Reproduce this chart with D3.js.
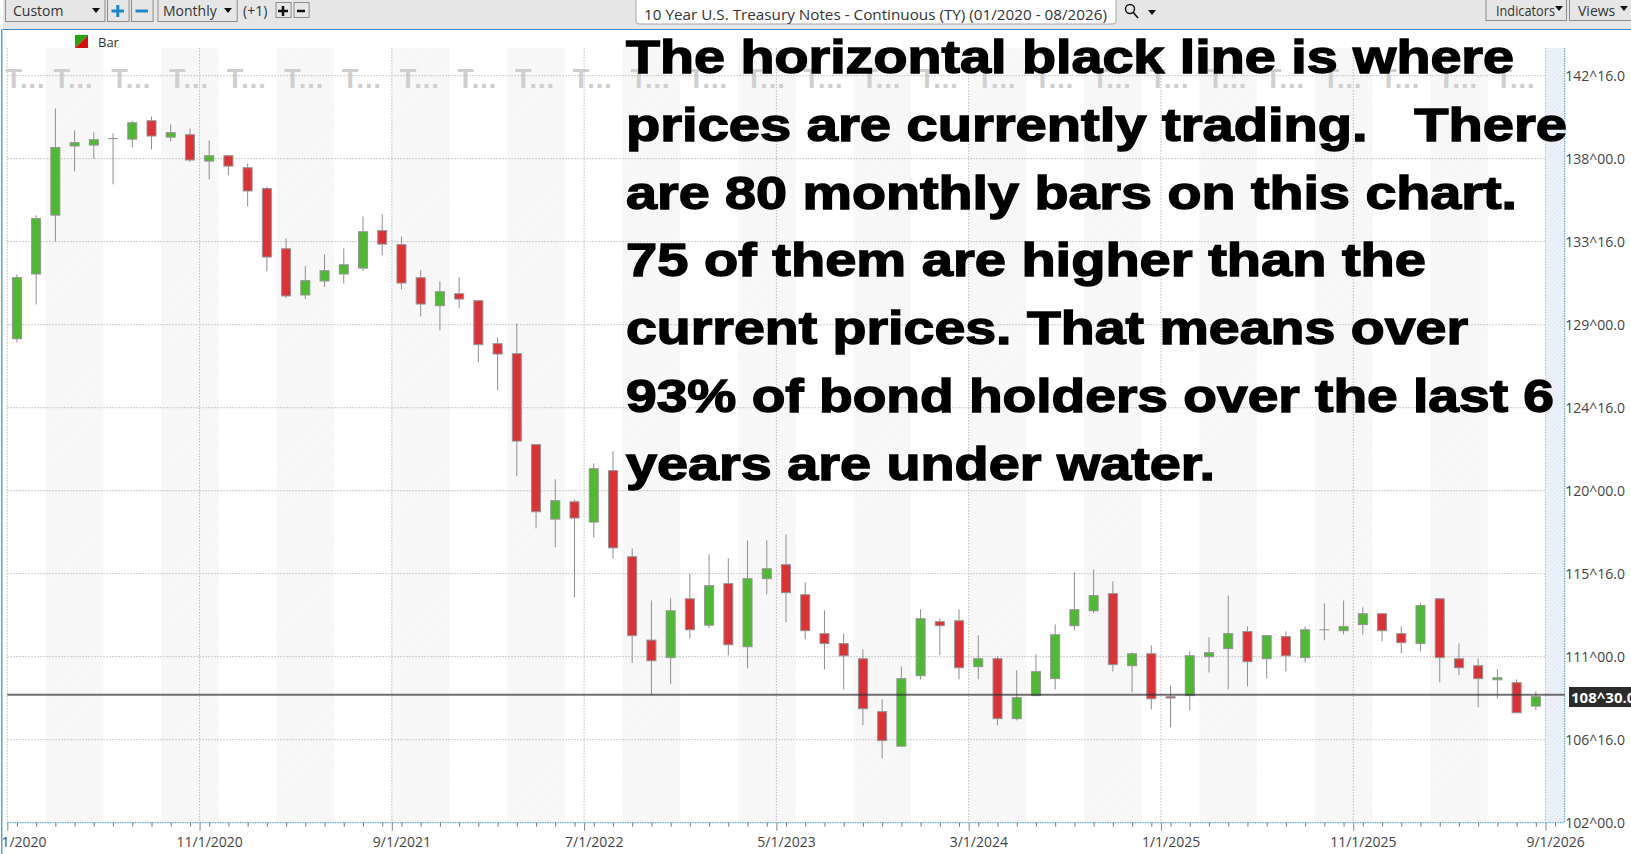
<!DOCTYPE html>
<html>
<head>
<meta charset="utf-8">
<title>10 Year U.S. Treasury Notes</title>
<script src="https://cdnjs.cloudflare.com/ajax/libs/d3/7.8.5/d3.min.js"></script>
<style>
html, body { margin: 0; padding: 0; background: #fff; overflow: hidden; }
svg { display: block; }
text { font-family: "Open Sans", sans-serif; }
</style>
</head>
<body>
<script>
// monthly bars, 01/2020 to 08/2026, prices in points
var opens = [128.24,131.75,134.94,138.69,138.74,139.09,139.06,140.06,139.17,139.30,
  137.87,138.16,137.51,136.38,133.12,130.61,131.37,131.75,132.07,134.10,
  133.34,131.55,130.03,130.68,130.30,127.97,127.43,122.50,118.46,119.40,
  118.30,121.09,116.42,111.90,110.95,114.14,112.71,114.96,111.54,115.23,
  115.99,114.36,112.25,111.71,110.89,108.02,106.15,109.97,112.90,112.95,
  110.46,110.89,107.64,108.89,109.81,112.68,113.49,114.42,110.51,111.16,
  108.83,108.89,111.00,111.44,112.36,110.89,112.09,110.95,112.46,112.41,
  112.74,113.33,112.25,111.71,114.14,110.89,110.51,109.75,109.59,108.32];
var highs = [131.73,134.93,140.73,139.54,139.43,139.37,140.06,140.28,139.86,139.63,
  138.99,138.18,137.73,136.48,133.68,132.20,132.81,133.14,134.87,134.98,
  133.79,131.95,131.35,131.57,130.32,128.31,129.07,122.51,120.61,119.51,
  121.48,122.13,116.87,114.05,114.16,115.48,116.55,116.33,117.31,117.31,
  117.63,115.03,113.51,112.26,111.40,108.69,110.47,113.57,113.08,113.57,
  112.16,111.00,110.26,111.13,112.75,115.57,115.73,115.08,111.23,111.61,
  109.44,111.29,112.05,114.32,112.64,112.14,112.37,112.64,113.89,114.05,
  113.67,113.35,112.64,113.89,114.16,111.72,110.91,110.31,109.77,109.12];
var lows = [128.04,130.10,133.50,137.31,138.00,136.61,138.61,138.51,138.94,137.82,
  136.88,137.10,135.42,131.89,130.44,130.39,131.04,131.24,131.91,132.76,
  130.92,129.45,128.69,129.89,126.96,125.44,120.78,117.96,116.93,114.22,
  117.47,116.33,110.65,108.94,109.51,111.99,112.55,111.07,110.37,114.38,
  112.86,111.94,110.31,109.23,107.28,105.49,106.10,109.77,111.07,109.77,
  109.77,107.28,107.55,108.89,109.23,112.43,113.35,110.20,109.07,108.14,
  107.17,108.09,110.15,109.23,109.39,109.82,110.20,110.69,111.89,112.21,
  112.21,111.83,111.18,111.29,109.61,109.99,108.25,108.74,107.96,108.09];
var closes = [131.55,134.75,138.61,138.87,139.03,139.09,139.95,139.23,139.41,137.93,
  138.16,137.60,136.25,132.67,130.56,131.39,131.93,132.25,134.04,133.37,
  131.26,130.12,130.79,130.39,127.92,127.41,122.69,118.86,119.46,118.52,
  121.19,116.90,112.14,110.78,113.49,112.46,114.85,111.65,115.23,115.77,
  114.47,112.41,111.71,111.05,108.18,106.45,109.81,113.06,112.68,110.40,
  110.89,107.64,108.78,110.19,112.19,113.55,114.31,110.57,111.16,108.72,
  108.76,111.05,111.22,112.25,110.73,112.14,111.05,112.46,112.46,112.63,
  113.33,112.41,111.76,113.77,110.95,110.40,109.81,109.86,107.96,108.83];

var lastPrice = 108.9375;
var lastPriceLabel = "108^30.0";

var yTicks = [142.5,138,133.5,129,124.5,120,115.5,111,106.5,102];
var yTickLabels = ["142^16.0","138^00.0","133^16.0","129^00.0","124^16.0","120^00.0","115^16.0","111^00.0","106^16.0","102^00.0"];
var xTicks = [0,10,20,30,40,50,60,70,80];
var xTickLabels = ["1/1/2020","11/1/2020","9/1/2021","7/1/2022","5/1/2023","3/1/2024","1/1/2025","11/1/2025","9/1/2026"];

var noteLines = ["The horizontal black line is where",
  "prices are currently trading.   There",
  "are 80 monthly bars on this chart.",
  "75 of them are higher than the",
  "current prices. That means over",
  "93% of bond holders over the last 6",
  "years are under water."];
var noteWidths = [888,941,891,800,842,928,589];

var chartTitle = "10 Year U.S. Treasury Notes - Continuous (TY) (01/2020 - 08/2026)";

var W = 1631, H = 854;
var plotTop = 48, plotBottom = 822.7, plotLeft = 7.3, plotRight = 1564.7;

var svg = d3.select("body").append("svg").attr("width", W).attr("height", H);

var x = d3.scaleLinear().domain([0, 81]).range([plotLeft, plotRight]);
var y = d3.scaleLinear().domain([102, 142.5]).range([plotBottom, 75.7]);

// fine hatch on the shaded areas
function hatch(id, base, stripe) {
  var p = svg.append("defs").append("pattern").attr("id", id)
     .attr("patternUnits", "userSpaceOnUse").attr("width", 3).attr("height", 3)
     .attr("patternTransform", "rotate(45)");
  p.append("rect").attr("width", 3).attr("height", 3).attr("fill", base);
  p.append("rect").attr("width", 1).attr("height", 3).attr("fill", stripe);
}
hatch("grayHatch", "#f6f6f6", "#fafafa");
hatch("blueHatch", "#e6ebf7", "#f1f4fb");

// alternating quarter bands
var bands = d3.range(2, 78, 6);
svg.append("g").selectAll("rect").data(bands).enter().append("rect")
   .attr("x", function(d) { return x(d); })
   .attr("y", plotTop)
   .attr("width", x(3) - x(0))
   .attr("height", plotBottom - plotTop)
   .attr("fill", "url(#grayHatch)");

// part of the axis past the last bar
svg.append("rect")
   .attr("x", x(80)).attr("y", plotTop)
   .attr("width", x(81) - x(80)).attr("height", plotBottom - plotTop)
   .attr("fill", "url(#blueHatch)");

// quarter captions, cut short by the program
var capSlots = [1].concat(d3.range(3.5, 79, 3));
svg.append("g").selectAll("text").data(capSlots).enter().append("text")
   .attr("x", function(d) { return x(d) - 1; })
   .attr("y", 88)
   .attr("text-anchor", "middle")
   .style("font-family", "'Liberation Sans'")
   .style("font-weight", "bold")
   .style("font-size", "27px")
   .style("letter-spacing", "1px")
   .attr("fill", "#cfcfcf")
   .text("T...");

// grid
svg.append("g").selectAll("line").data(yTicks.slice(0, 9)).enter().append("line")
   .attr("x1", plotLeft).attr("x2", x(80))
   .attr("y1", function(d) { return y(d); })
   .attr("y2", function(d) { return y(d); })
   .attr("stroke", "#bdbdbd").attr("stroke-width", 1).attr("stroke-dasharray", "1.5,1.5");
svg.append("g").selectAll("line").data(xTicks).enter().append("line")
   .attr("x1", function(d) { return x(d); })
   .attr("x2", function(d) { return x(d); })
   .attr("y1", plotTop).attr("y2", plotBottom)
   .attr("stroke", "#bdbdbd").attr("stroke-width", 1).attr("stroke-dasharray", "1.5,1.5");

// plot border
svg.append("line").attr("x1", plotLeft).attr("x2", plotRight).attr("y1", plotBottom).attr("y2", plotBottom)
   .attr("stroke", "#3f9bd6").attr("stroke-width", 1).attr("stroke-dasharray", "1.5,1");
svg.append("line").attr("x1", plotRight).attr("x2", plotRight).attr("y1", plotTop).attr("y2", plotBottom)
   .attr("stroke", "#3f9bd6").attr("stroke-width", 1).attr("stroke-dasharray", "1.5,1");

// bars
var candles = svg.append("g").selectAll("g").data(d3.range(opens.length)).enter().append("g");
candles.append("line")
   .attr("x1", function(i) { return x(i + 0.5); })
   .attr("x2", function(i) { return x(i + 0.5); })
   .attr("y1", function(i) { return y(highs[i]); })
   .attr("y2", function(i) { return y(lows[i]); })
   .attr("stroke", "#8f8f8f").attr("stroke-width", 1);
candles.append("rect")
   .attr("x", function(i) { return x(i + 0.5) - 4.5; })
   .attr("y", function(i) { return y(Math.max(opens[i], closes[i])); })
   .attr("width", 9)
   .attr("height", function(i) { return Math.max(0.01, Math.abs(y(opens[i]) - y(closes[i]))); })
   .attr("fill", function(i) { return closes[i] >= opens[i] ? "#4fb933" : "#db3238"; })
   .attr("stroke", "#949494").attr("stroke-width", 1);

// current price
svg.append("line")
   .attr("x1", plotLeft).attr("x2", plotRight)
   .attr("y1", y(lastPrice)).attr("y2", y(lastPrice))
   .attr("stroke", "#333").attr("stroke-opacity", 0.7).attr("stroke-width", 2);

// y axis
var yAxis = d3.axisRight(y).tickValues(yTicks).tickSize(0).tickPadding(0)
   .tickFormat(function(d, i) { return yTickLabels[i]; });
var yg = svg.append("g").attr("transform", "translate(" + (W - 6) + ",0)").call(yAxis);
yg.select(".domain").remove();
yg.selectAll("text").attr("text-anchor", "end").attr("fill", "#444").style("font-size", "14px");

svg.append("rect").attr("x", 1569).attr("y", 687).attr("width", 62).attr("height", 20).attr("fill", "#2b2b2b");
svg.append("text").attr("x", 1571).attr("y", 702.5)
   .attr("fill", "#fff").style("font-size", "15px").style("font-weight", "bold").text(lastPriceLabel);

// x axis, small ticks on the bars and long ticks on the labelled months
var minor = d3.axisBottom(x).tickValues(d3.range(0.5, 81, 1)).tickSize(4)
   .tickFormat(function(d) { var k = xTicks.indexOf(d - 0.5); return k < 0 ? "" : xTickLabels[k]; });
var xg = svg.append("g").attr("transform", "translate(0," + plotBottom + ")").call(minor);
xg.select(".domain").remove();
xg.selectAll("line").attr("stroke", "#777");
xg.selectAll("text").attr("y", 14).attr("fill", "#444").style("font-size", "14px");

var major = d3.axisBottom(x).tickValues(xTicks).tickSize(8).tickFormat("");
var xg2 = svg.append("g").attr("transform", "translate(0," + plotBottom + ")").call(major);
xg2.select(".domain").remove();
xg2.selectAll("line").attr("stroke", "#888");

// toolbar
svg.append("rect").attr("x", 0).attr("y", 0).attr("width", W).attr("height", 29).attr("fill", "#e6e6e6");
svg.append("line").attr("x1", 3).attr("x2", W).attr("y1", 29.5).attr("y2", 29.5).attr("stroke", "#3c87c3").attr("stroke-width", 1);
svg.append("rect").attr("x", 0).attr("y", 0).attr("width", 3).attr("height", H).attr("fill", "#fff");
svg.append("rect").attr("x", 1).attr("y", 29).attr("width", 1.5).attr("height", H - 29).attr("fill", "#5aa5dc");

function box(x0, x1, y0, y1, fill) {
  svg.append("rect").attr("x", x0 + 0.5).attr("y", y0 - 0.5).attr("width", x1 - x0).attr("height", y1 - y0)
     .attr("fill", fill || "#e6e6e6").attr("stroke", "#8c8c8c").attr("stroke-width", 1);
}
function label(s, px, py, size) {
  return svg.append("text").attr("x", px).attr("y", py).attr("fill", "#333").style("font-size", (size || 14) + "px").text(s);
}
function caret(px, py) {
  svg.append("path").attr("d", "M" + (px - 4) + "," + py + "h8l-4,5z").attr("fill", "#111");
}
box(5, 104.5, 0, 22);
label("Custom", 13, 16);
caret(96, 8);
box(107, 128.6, 0, 22);
svg.append("path").attr("d", "M111.5,11H124M117.8,5V17").attr("stroke", "#1e88c9").attr("stroke-width", 3).attr("fill", "none");
box(131, 152.6, 0, 22);
svg.append("path").attr("d", "M135.5,11H148").attr("stroke", "#1e88c9").attr("stroke-width", 3).attr("fill", "none");
box(157.5, 236.7, 0, 22);
label("Monthly", 163, 16);
caret(228, 8);
label("(+1)", 243, 16);
box(275.5, 290.6, 3, 18);
svg.append("path").attr("d", "M278,11H288M283,6V16").attr("stroke", "#111").attr("stroke-width", 2.5).attr("fill", "none");
box(293.5, 308.6, 3, 18);
svg.append("path").attr("d", "M297,11H305").attr("stroke", "#111").attr("stroke-width", 2.5).attr("fill", "none");

svg.append("rect").attr("x", 636).attr("y", -4).attr("width", 480).attr("height", 28).attr("rx", 3)
   .attr("fill", "#fff").attr("stroke", "#a8a8a8").attr("stroke-width", 1);
label(chartTitle, 644, 20).attr("textLength", 463).attr("lengthAdjust", "spacingAndGlyphs");
svg.append("circle").attr("cx", 1130).attr("cy", 9).attr("r", 4.5).attr("fill", "none").attr("stroke", "#111").attr("stroke-width", 1.4);
svg.append("line").attr("x1", 1133).attr("y1", 12).attr("x2", 1138).attr("y2", 18).attr("stroke", "#111").attr("stroke-width", 1.6);
caret(1152, 10);
box(1485.5, 1566, 0, 21);
label("Indicators", 1496, 16).attr("textLength", 59).attr("lengthAdjust", "spacingAndGlyphs");
caret(1559, 6);
box(1569, 1632, 0, 21);
label("Views", 1578, 16);
caret(1624, 6);

// legend
svg.append("path").attr("d", "M75,35H88L75,48Z").attr("fill", "#1fa80d");
svg.append("path").attr("d", "M88,35V48H75Z").attr("fill", "#d60e12");
label("Bar", 98, 47).attr("fill", "#333").style("font-size", "13px");

// big note over the chart
svg.append("g").selectAll("text").data(noteLines).enter().append("text")
   .attr("x", 626)
   .attr("y", function(d, i) { return 72.7 + i * 67.9; })
   .attr("textLength", function(d, i) { return noteWidths[i]; })
   .attr("lengthAdjust", "spacingAndGlyphs")
   .attr("xml:space", "preserve")
   .style("white-space", "pre")
   .style("font-family", "'Liberation Sans'")
   .style("font-weight", "bold")
   .style("font-size", "46.5px")
   .attr("fill", "#000").attr("stroke", "#000").attr("stroke-width", 1.4)
   .text(function(d) { return d; });
</script>
</body>
</html>
